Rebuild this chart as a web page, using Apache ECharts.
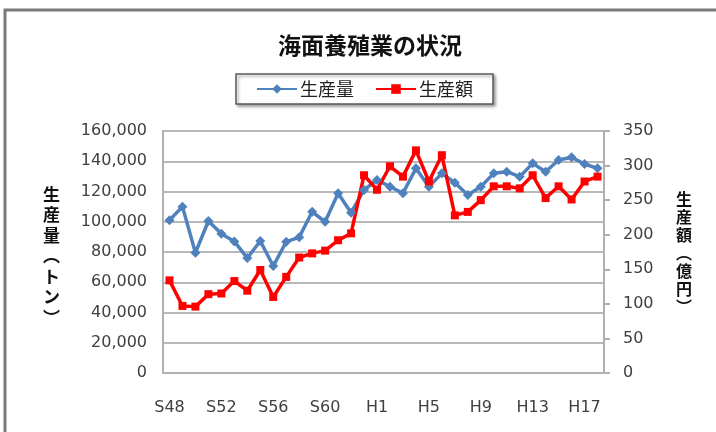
<!DOCTYPE html>
<html>
<head>
<meta charset="utf-8">
<script src="https://cdn.jsdelivr.net/npm/echarts@6/dist/echarts.min.js"></script>
<style>
html,body{margin:0;padding:0;background:#fff;}
#main{width:716px;height:432px;}
</style>
</head>
<body>
<div id="main"></div>
<script>
const categories = ['S48','S49','S50','S51','S52','S53','S54','S55','S56','S57','S58','S59','S60','S61','S62','S63',
  'H1','H2','H3','H4','H5','H6','H7','H8','H9','H10','H11','H12','H13','H14','H15','H16','H17','H18'];
const productionTons = [101000,110000,79500,100500,92000,87000,76000,87300,70700,86800,89700,106600,100000,118800,106000,121000,
  127600,123200,118800,135300,123200,132000,125800,117700,123200,132000,133100,129800,138600,133100,140800,142600,138200,135300];
const productionValue = [134,97,96,114,115,133,119,149,110,139,167,173,177,192,202,286,
  265,299,284,322,277,315,228,233,250,270,270,267,286,253,270,251,277,284];
const leftTicks = {min:0, max:160000, interval:20000};
const rightTicks = {min:0, max:350, interval:50};

const labelFont = 'DejaVu Sans';
const cjkFont = 'Noto Sans CJK JP';
const chart = echarts.init(document.getElementById('main'), null, {renderer:'canvas'});
chart.setOption({
  backgroundColor:'#fff',
  animation:false,
  graphic:[
    {type:'rect', shape:{x:5, y:10, width:800, height:500}, style:{fill:'none', stroke:'#7a7a7a', lineWidth:3}, z:-1},
    {type:'text', left:43, top:184, style:{text:'生\n産\n量\n︵\nト\nン\n︶', font:'bold 17px "Noto Sans CJK JP"', fill:'#111', lineHeight:20.5, align:'center'}},
    {type:'text', left:676, top:190, style:{text:'生\n産\n額\n︵\n億\n円\n︶', font:'bold 16px "Noto Sans CJK JP"', fill:'#111', lineHeight:18, align:'center'}}
  ],
  title:{
    text:'海面養殖業の状況', left:365, top:29, textAlign:'center',
    textStyle:{fontFamily:cjkFont, fontSize:23, fontWeight:'bold', color:'#111'}
  },
  legend:{
    left:236, top:74, padding:[6,20,6,20], itemWidth:40, itemHeight:12, itemGap:21,
    borderColor:'#5a5a5a', borderWidth:1.5, backgroundColor:'#fff',
    shadowColor:'rgba(0,0,0,0.35)', shadowBlur:3, shadowOffsetX:2, shadowOffsetY:2,
    textStyle:{fontFamily:cjkFont, fontSize:18, color:'#222', padding:[0,0,0,-2]},
    data:['生産量','生産額']
  },
  grid:{left:163, right:112, top:131, bottom:59},
  xAxis:{
    type:'category', data:categories, boundaryGap:true,
    axisLine:{lineStyle:{color:'#b0b0b0', width:2}},
    axisTick:{interval:3, inside:true, length:5, lineStyle:{color:'#b0b0b0', width:2}},
    axisLabel:{interval:3, margin:27, fontFamily:labelFont, fontSize:16, color:'#404040'}
  },
  yAxis:[
    {type:'value', min:leftTicks.min, max:leftTicks.max, interval:leftTicks.interval,
     axisLine:{show:true, lineStyle:{color:'#b0b0b0', width:2}},
     axisTick:{show:false},
     splitLine:{lineStyle:{color:'#b8b8b8', width:2}},
     axisLabel:{margin:16, fontFamily:labelFont, fontSize:16, color:'#404040',
       formatter:v=>v.toLocaleString('en-US')}},
    {type:'value', min:rightTicks.min, max:rightTicks.max, interval:rightTicks.interval, position:'right',
     axisLine:{show:true, lineStyle:{color:'#b0b0b0', width:2}},
     axisTick:{show:true, length:6, lineStyle:{color:'#b0b0b0', width:2}},
     splitLine:{show:false},
     axisLabel:{margin:19, fontFamily:labelFont, fontSize:16, color:'#404040'}}
  ],
  series:[
    {name:'生産量', type:'line', yAxisIndex:0, data:productionTons,
     symbol:'diamond', symbolSize:10, showAllSymbol:true,
     lineStyle:{color:'#4f81bd', width:3.5}, itemStyle:{color:'#4f81bd'}},
    {name:'生産額', type:'line', yAxisIndex:1, data:productionValue,
     symbol:'rect', symbolSize:8, showAllSymbol:true,
     lineStyle:{color:'#ff0000', width:3.5}, itemStyle:{color:'#ff0000'}}
  ]
});
</script>
</body>
</html>
